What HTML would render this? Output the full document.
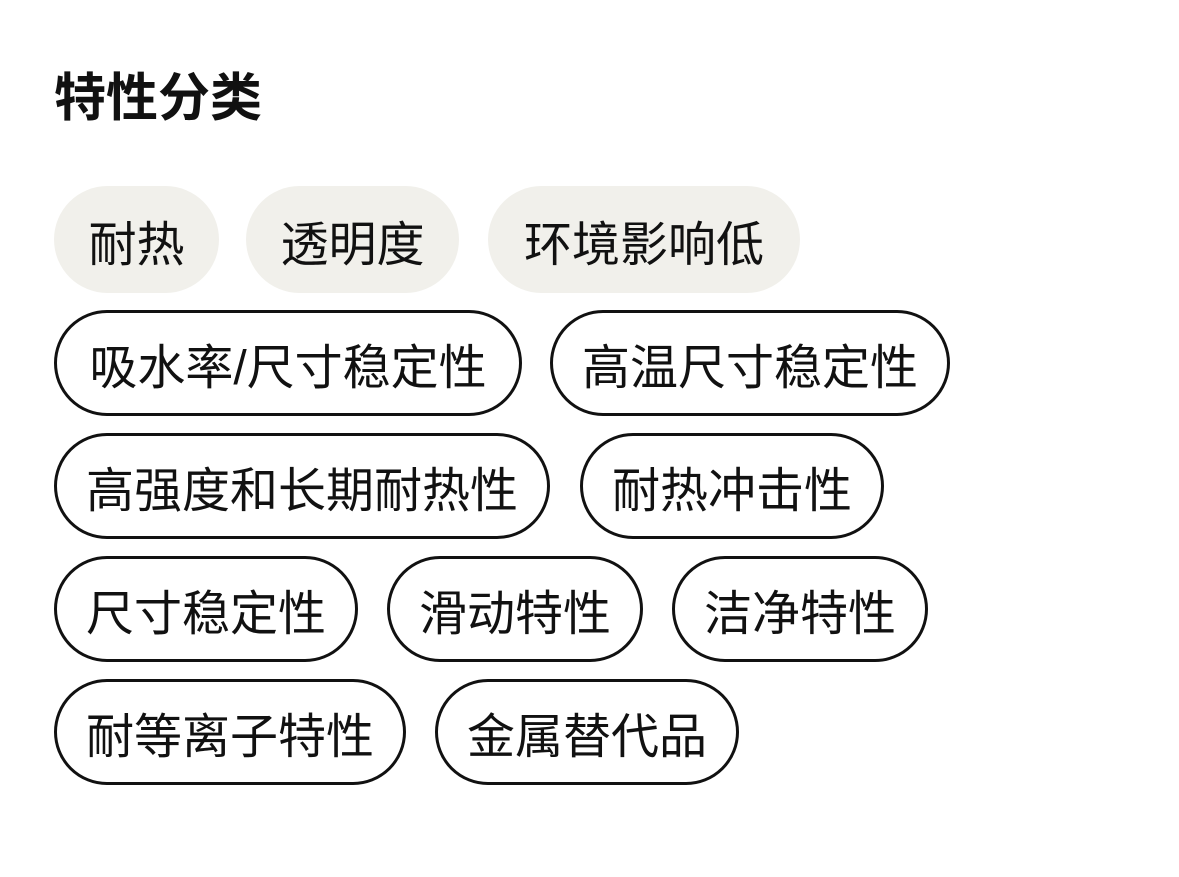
<!DOCTYPE html>
<html><head><meta charset="utf-8"><style>
body{margin:0;width:1179px;height:877px;background:#fff;position:relative;overflow:hidden;font-family:"Liberation Sans","Noto Sans CJK SC",sans-serif;}
.t{position:absolute;left:54px;top:68px;font-size:52px;font-weight:bold;line-height:62px;color:#111;}
.p{position:absolute;box-sizing:border-box;border-radius:54px;display:flex;align-items:center;justify-content:center;font-size:48px;color:#111;white-space:nowrap;}
.f{background:#f1f0eb;}
.o{border:3px solid #111;}
</style></head><body>
<div class="t">特性分类</div>
<div class="p f" style="left:54px;top:186px;width:165px;height:107px">耐热</div>
<div class="p f" style="left:246px;top:186px;width:213px;height:107px">透明度</div>
<div class="p f" style="left:488px;top:186px;width:312px;height:107px">环境影响低</div>
<div class="p o" style="left:54px;top:310px;width:468px;height:106px">吸水率/尺寸稳定性</div>
<div class="p o" style="left:550px;top:310px;width:400px;height:106px">高温尺寸稳定性</div>
<div class="p o" style="left:54px;top:433px;width:496px;height:106px">高强度和长期耐热性</div>
<div class="p o" style="left:580px;top:433px;width:304px;height:106px">耐热冲击性</div>
<div class="p o" style="left:54px;top:556px;width:304px;height:106px">尺寸稳定性</div>
<div class="p o" style="left:387px;top:556px;width:256px;height:106px">滑动特性</div>
<div class="p o" style="left:672px;top:556px;width:256px;height:106px">洁净特性</div>
<div class="p o" style="left:54px;top:679px;width:352px;height:106px">耐等离子特性</div>
<div class="p o" style="left:435px;top:679px;width:304px;height:106px">金属替代品</div>
</body></html>
